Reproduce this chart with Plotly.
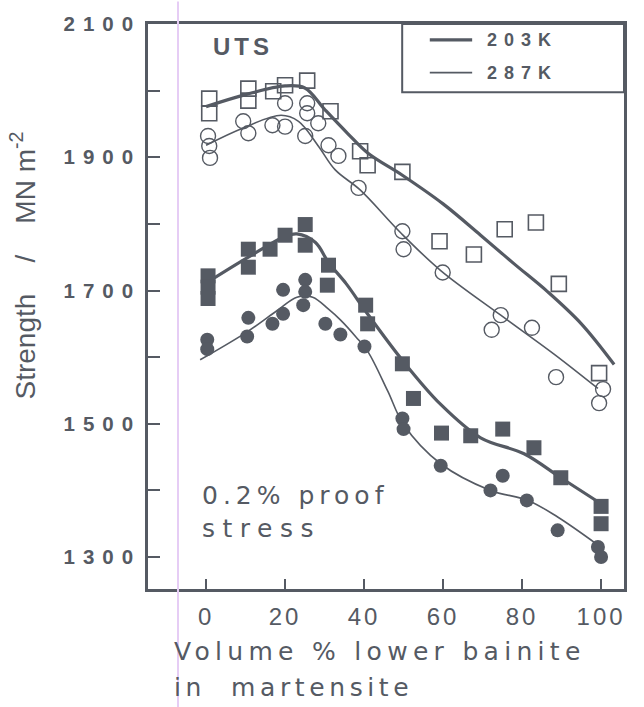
import plotly.graph_objects as go

# ---- measured points: UTS, 203 K (open squares) ----
uts203_x = [0.8, 0.8, 10.7, 10.7, 17.0, 20.0, 25.6, 31.5, 39.0, 40.9, 49.7, 59.1, 67.8, 75.6, 83.5, 89.3, 99.5]
uts203_y = [1988, 1966, 2003, 1985, 1999, 2008, 2015, 1969, 1909, 1888, 1878, 1774, 1754, 1792, 1802, 1710, 1576]

# ---- measured points: UTS, 287 K (open circles) ----
uts287_x = [0.5, 0.8, 1.0, 9.4, 10.7, 16.8, 20.0, 20.0, 25.6, 25.6, 25.1, 28.4, 31.0, 33.5, 38.6,
            49.7, 50.0, 59.9, 74.6, 72.3, 82.5, 88.6, 100.5, 99.5]
uts287_y = [1932, 1917, 1899, 1954, 1936, 1948, 1946, 1981, 1981, 1966, 1932, 1951, 1918, 1902, 1854,
            1789, 1762, 1727, 1663, 1641, 1644, 1570, 1552, 1531]

# ---- measured points: 0.2% proof stress, 203 K (filled squares) ----
ps203_x = [0.5, 0.5, 0.5, 10.7, 10.7, 16.2, 20.0, 25.1, 25.1, 31.0, 30.7, 40.4, 40.9, 49.7, 52.5,
           59.6, 67.0, 75.1, 83.0, 89.8, 100.0, 100.0]
ps203_y = [1722, 1705, 1688, 1762, 1735, 1762, 1783, 1799, 1768, 1738, 1708, 1678, 1650, 1590, 1538,
           1486, 1482, 1492, 1464, 1419, 1376, 1350]

# ---- measured points: 0.2% proof stress, 287 K (filled circles) ----
ps287_x = [0.3, 0.3, 10.7, 10.4, 16.8, 19.5, 19.5, 25.1, 25.1, 24.6, 30.2, 34.0, 40.1, 49.7, 50.0,
           59.4, 75.1, 72.0, 81.2, 89.0, 99.2, 100.0]
ps287_y = [1626, 1612, 1659, 1631, 1650, 1665, 1701, 1716, 1698, 1678, 1650, 1634, 1616, 1508, 1492,
           1437, 1422, 1400, 1385, 1340, 1315, 1300]

# ---- fitted trend curves ----
fit_uts203_x = [0, 10, 20, 25, 30, 35.8, 41, 49.7, 60, 69.5, 78, 86.5, 95, 103.3]
fit_uts203_y = [1976, 1994, 2007, 2004, 1972, 1936, 1906, 1873, 1830, 1783, 1740, 1698, 1650, 1589]

fit_uts287_x = [0, 9.4, 19, 23.4, 28.4, 32.7, 39, 49.2, 59.4, 74.6, 88, 99.2]
fit_uts287_y = [1918, 1944, 1963, 1954, 1917, 1881, 1851, 1787, 1730, 1663, 1605, 1553]

fit_ps203_x = [0.8, 10.7, 20, 23, 27.7, 31, 35.5, 40.5, 50, 59.4, 69.5, 80.5, 89.8, 100]
fit_ps203_y = [1714, 1750, 1781, 1785, 1772, 1742, 1710, 1668, 1593, 1529, 1479, 1455, 1419, 1380]

fit_ps287_x = [-1.5, 10.4, 18, 23, 27, 31, 34, 38, 41, 46, 50, 59.4, 72, 81.5, 89, 99.2]
fit_ps287_y = [1596, 1638, 1670, 1690, 1690, 1672, 1656, 1630, 1608, 1549, 1499, 1440, 1400, 1385, 1360, 1318]

# ---- axis ticks ----
x_ticks = [0, 20, 40, 60, 80, 100]
y_ticks = [1300, 1500, 1700, 1900, 2100]

INK = "#555a63"
FONT = "Liberation Sans"
WIDE = "DejaVu Sans"
NBSP = "\u00a0"


def spaced(text, px):
    return f'<span style="letter-spacing:{px}px">{text}</span>'


def plain_font(size, family=FONT):
    return dict(family=family, size=size, color=INK)


def bold_font(size):
    return dict(family=FONT, size=size, color=INK, weight="bold")


fig = go.Figure()

# trend lines (thick = 203 K, thin = 287 K)
for xs, ys, w in [(fit_uts203_x, fit_uts203_y, 3.2), (fit_uts287_x, fit_uts287_y, 1.6),
                  (fit_ps203_x, fit_ps203_y, 3.2), (fit_ps287_x, fit_ps287_y, 1.6)]:
    fig.add_trace(go.Scatter(x=xs, y=ys, mode="lines",
                             line=dict(color=INK, width=w, shape="spline", smoothing=1.0),
                             hoverinfo="skip", showlegend=False))

# data markers
fig.add_trace(go.Scatter(x=uts203_x, y=uts203_y, mode="markers", showlegend=False,
                         marker=dict(symbol="square-open", size=15, color=INK, line=dict(width=1.6))))
fig.add_trace(go.Scatter(x=uts287_x, y=uts287_y, mode="markers", showlegend=False,
                         marker=dict(symbol="circle-open", size=15, color=INK, line=dict(width=1.4))))
fig.add_trace(go.Scatter(x=ps203_x, y=ps203_y, mode="markers", showlegend=False,
                         marker=dict(symbol="square", size=15, color=INK, line=dict(width=0))))
fig.add_trace(go.Scatter(x=ps287_x, y=ps287_y, mode="markers", showlegend=False,
                         marker=dict(symbol="circle", size=14, color=INK, line=dict(width=0))))

fig.update_layout(
    width=644, height=707,
    margin=dict(l=148, r=20, t=20, b=118),
    paper_bgcolor="white", plot_bgcolor="white",
    font=dict(family=FONT, color=INK),
    xaxis=dict(range=[-14.7, 105.8], tickvals=x_ticks, ticktext=[spaced(str(v), 3) for v in x_ticks],
               ticks="inside", ticklen=10, tickwidth=2, tickcolor=INK,
               showline=True, linewidth=2.5, linecolor=INK, mirror=True,
               showgrid=False, zeroline=False, tickfont=plain_font(24),
               ticklabelstandoff=4),
    yaxis=dict(range=[1252, 2100], tickvals=y_ticks, ticktext=[spaced(str(v), 8) for v in y_ticks],
               ticks="inside", ticklen=12, tickwidth=2, tickcolor=INK,
               minor=dict(dtick=100, ticks="inside", ticklen=12, tickwidth=2, tickcolor=INK, showgrid=False),
               showline=True, linewidth=2.5, linecolor=INK, mirror=True,
               showgrid=False, zeroline=False, tickfont=bold_font(20.5),
               ticklabelstandoff=0),
)

# legend box and keys
fig.add_shape(type="rect", xref="paper", yref="paper", x0=0.534, x1=1.0, y0=0.879, y1=1.0,
              line=dict(color=INK, width=2))
fig.add_shape(type="line", xref="paper", yref="paper", x0=0.592, x1=0.681, y0=0.972, y1=0.972,
              line=dict(color=INK, width=3.2))
fig.add_shape(type="line", xref="paper", yref="paper", x0=0.592, x1=0.681, y0=0.914, y1=0.914,
              line=dict(color=INK, width=1.6))
for label, yy in [("203K", 0.972), ("287K", 0.914)]:
    fig.add_annotation(xref="paper", yref="paper", x=0.708, y=yy, xanchor="left", yanchor="middle",
                       text=spaced(label, 7), showarrow=False, font=bold_font(18))

# panel labels
fig.add_annotation(xref="paper", yref="paper", x=0.199, y=0.961, xanchor="center", yanchor="middle",
                   text=spaced("UTS", 4), showarrow=False, font=bold_font(24))
fig.add_annotation(xref="paper", yref="paper", x=0.109, y=0.165, xanchor="left", yanchor="middle",
                   text=spaced("0.2% proof", 5), showarrow=False, font=plain_font(25, WIDE))
fig.add_annotation(xref="paper", yref="paper", x=0.109, y=0.107, xanchor="left", yanchor="middle",
                   text=spaced("stress", 7.5), showarrow=False, font=plain_font(25, WIDE))

# axis titles
fig.add_annotation(xref="paper", yref="paper", x=0.050, y=-0.111, xanchor="left", yanchor="middle",
                   text=spaced("Volume % lower bainite", 5.3), showarrow=False, font=plain_font(25, WIDE))
fig.add_annotation(xref="paper", yref="paper", x=0.050, y=-0.174, xanchor="left", yanchor="middle",
                   text=spaced("in  martensite", 4.6), showarrow=False, font=plain_font(25, WIDE))
fig.add_annotation(xref="paper", yref="paper", x=-0.262, y=0.573, xanchor="center", yanchor="middle",
                   text=f"Strength{NBSP*4}/{NBSP*4}MN m<sup>-2</sup>", textangle=-90, showarrow=False,
                   font=plain_font(28))

# faint vertical scan line across the sheet
fig.add_shape(type="line", xref="paper", yref="paper", x0=0.063, x1=0.063, y0=-0.22, y1=1.04,
              line=dict(color="#e6cdf5", width=2))

fig.write_html("out.html")
